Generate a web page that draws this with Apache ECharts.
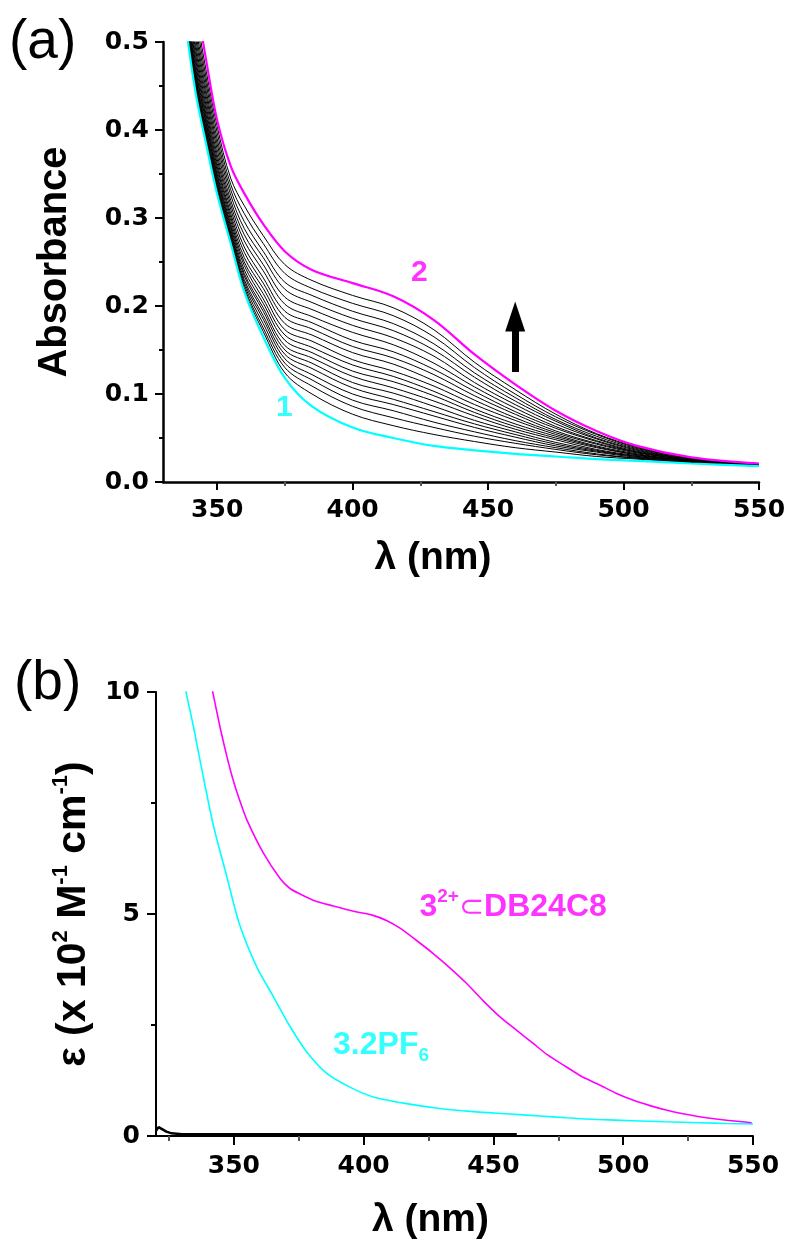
<!DOCTYPE html>
<html><head><meta charset="utf-8">
<script src="https://cdn.jsdelivr.net/npm/echarts@6/dist/echarts.min.js"></script>
<style>html,body{margin:0;padding:0;background:#fff}#c{width:792px;height:1244px}</style>
</head><body><div id="c"></div>
<script>
// ---------- Panel (a): titration spectra ----------
const wavelengthsA = [338,342,346,350,355,360,367,375,385,400,415,430,445,460,475,490,505,525,550];
const absCurve1 = [0.528,0.443,0.383,0.327,0.271,0.216,0.165,0.118,0.086,0.062,0.050,0.041,0.036,0.032,0.029,0.026,0.024,0.021,0.018];
const absCurve2 = [0.620,0.550,0.478,0.411,0.359,0.328,0.293,0.262,0.241,0.226,0.211,0.184,0.145,0.111,0.081,0.058,0.041,0.028,0.021];
const titrationCurves = [
  [0.609,0.537,0.466,0.404,0.345,0.314,0.280,0.247,0.229,0.212,0.198,0.173,0.136,0.105,0.077,0.055,0.040,0.027,0.021],
  [0.601,0.528,0.458,0.397,0.338,0.305,0.271,0.237,0.220,0.203,0.189,0.165,0.130,0.100,0.074,0.054,0.039,0.027,0.021],
  [0.594,0.519,0.451,0.390,0.332,0.296,0.262,0.227,0.212,0.194,0.180,0.157,0.124,0.096,0.071,0.052,0.038,0.027,0.020],
  [0.587,0.512,0.444,0.384,0.326,0.288,0.255,0.219,0.204,0.186,0.172,0.150,0.119,0.092,0.069,0.050,0.037,0.026,0.020],
  [0.581,0.505,0.438,0.378,0.320,0.281,0.247,0.210,0.196,0.178,0.164,0.143,0.113,0.088,0.066,0.049,0.036,0.026,0.020],
  [0.575,0.498,0.432,0.372,0.315,0.274,0.240,0.202,0.188,0.170,0.156,0.135,0.108,0.084,0.063,0.047,0.035,0.026,0.020],
  [0.570,0.492,0.426,0.367,0.310,0.267,0.232,0.194,0.181,0.161,0.148,0.128,0.103,0.080,0.061,0.046,0.034,0.025,0.020],
  [0.565,0.486,0.421,0.362,0.305,0.261,0.226,0.187,0.174,0.154,0.141,0.122,0.098,0.077,0.058,0.044,0.034,0.025,0.020],
  [0.560,0.481,0.416,0.358,0.301,0.255,0.220,0.180,0.167,0.147,0.134,0.115,0.093,0.073,0.056,0.043,0.033,0.025,0.020],
  [0.556,0.476,0.412,0.354,0.297,0.250,0.214,0.173,0.160,0.139,0.126,0.109,0.088,0.070,0.054,0.041,0.032,0.024,0.019],
  [0.552,0.471,0.408,0.350,0.293,0.246,0.208,0.167,0.153,0.133,0.120,0.103,0.083,0.066,0.052,0.040,0.031,0.024,0.019],
  [0.549,0.467,0.405,0.347,0.290,0.241,0.203,0.161,0.147,0.126,0.114,0.098,0.079,0.063,0.050,0.039,0.031,0.024,0.019],
  [0.546,0.463,0.401,0.344,0.287,0.237,0.198,0.155,0.141,0.120,0.107,0.092,0.075,0.060,0.048,0.037,0.030,0.024,0.019],
  [0.543,0.460,0.398,0.341,0.284,0.234,0.194,0.150,0.135,0.113,0.101,0.086,0.070,0.057,0.045,0.036,0.029,0.023,0.019],
  [0.540,0.457,0.395,0.338,0.282,0.230,0.189,0.145,0.129,0.107,0.094,0.080,0.066,0.054,0.043,0.035,0.029,0.023,0.019],
  [0.537,0.454,0.392,0.336,0.279,0.227,0.185,0.140,0.122,0.100,0.088,0.075,0.062,0.051,0.041,0.034,0.028,0.023,0.019],
  [0.535,0.451,0.390,0.333,0.277,0.224,0.180,0.135,0.116,0.093,0.081,0.068,0.057,0.047,0.039,0.032,0.027,0.022,0.019],
  [0.532,0.448,0.387,0.331,0.275,0.221,0.175,0.130,0.109,0.086,0.073,0.062,0.052,0.044,0.037,0.031,0.027,0.022,0.018],
  [0.530,0.445,0.385,0.329,0.273,0.218,0.171,0.124,0.100,0.077,0.064,0.054,0.046,0.039,0.034,0.029,0.026,0.022,0.018]
];
const xMajorA = [350,400,450,500,550];
const xMinorA = [375,425,475,525];
const labelsA = [{text:'1', at:[374.8,0.084], color:'#00FFFF'}, {text:'2', at:[424.6,0.238], color:'#FF00FF'}];
const arrowA = {x:460, from:0.125, to:0.188};

// ---------- Panel (b): molar absorptivity ----------
const wlSalt = [331,334.5,337.7,342.2,347.3,352,358.8,365.2,371.7,378,385.8,394.7,403.7,416.5,429.3,442.2,455,467.8,478,490,503.7,516,529.3,540,550];
const epsSalt = [10.15,9.2,8.24,6.97,5.84,4.8,3.81,3.14,2.46,1.9,1.41,1.1,0.88,0.73,0.62,0.55,0.5,0.45,0.41,0.37,0.345,0.32,0.3,0.28,0.27];
const wlComplex = [341.5,344.7,347.3,349.8,352,355,361.4,367.8,371.5,375.5,381,388.3,397,403,409,414,420,426.8,433,439.6,446,452.4,459,465.2,471,478,484,490.9,497,503.7,510,516.5,523,529.3,539,549.5];
const epsComplex = [10.1,9.2,8.55,8.0,7.6,7.12,6.37,5.8,5.58,5.45,5.3,5.18,5.05,4.98,4.85,4.68,4.42,4.11,3.8,3.44,3.05,2.69,2.38,2.09,1.82,1.56,1.34,1.15,0.97,0.81,0.69,0.585,0.5,0.435,0.36,0.3];
const wlBase = [320,321,322.5,324,326,330,459];
const epsBase = [0.12,0.2,0.15,0.1,0.06,0.04,0.04];
const xMajorB = [350,400,450,500,550];
const xMinorB = [325,375,425,475,525];
const labelComplex = {text:'{a|3}{s|2+}{c|⊂}{a|DB24C8}', at:[457.6,5.2]};
const labelSalt = {text:'{a|3.2PF}{b|6}', at:[406.7,2.0]};

const pair = (xs, ys) => xs.map((x, i) => [x, ys[i]]);
const tickFont = {fontFamily:'DejaVu Sans', fontWeight:'bold', fontSize:25, color:'#000'};
const nameFont = 'Liberation Sans';

const series = [];
titrationCurves.forEach((c, i) => series.push({
  type:'line', xAxisIndex:0, yAxisIndex:0, data:pair(wavelengthsA, c), symbol:'none',
  smooth:0.35, lineStyle:{color:'#000', width:1}, silent:true, z:2
}));
series.push({type:'line', xAxisIndex:0, yAxisIndex:0, data:pair(wavelengthsA, absCurve1), symbol:'none',
  smooth:0.35, lineStyle:{color:'#00FFFF', width:2.2}, z:3});
series.push({type:'line', xAxisIndex:0, yAxisIndex:0, data:pair(wavelengthsA, absCurve2), symbol:'none',
  smooth:0.35, lineStyle:{color:'#FF00FF', width:2.2}, z:3,
  markLine:{silent:true, symbol:['none','triangle'], symbolSize:[20,30], label:{show:false},
    lineStyle:{color:'#000', width:7, type:'solid'},
    data:[[{coord:[arrowA.x, arrowA.from]}, {coord:[arrowA.x, arrowA.to]}]]}});
labelsA.forEach(l => series.push({type:'scatter', xAxisIndex:0, yAxisIndex:0, data:[l.at], symbolSize:0,
  label:{show:true, position:'inside', formatter:l.text, color:l.color, fontFamily:nameFont, fontWeight:'bold', fontSize:30}, z:5}));

series.push({type:'line', xAxisIndex:2, yAxisIndex:1, data:pair(wlBase, epsBase), symbol:'none',
  lineStyle:{color:'#000', width:2.5}, z:2});
series.push({type:'line', xAxisIndex:2, yAxisIndex:1, data:pair(wlSalt, epsSalt), symbol:'none', smooth:0.25,
  lineStyle:{color:'#00FFFF', width:1.6}, z:3});
series.push({type:'line', xAxisIndex:2, yAxisIndex:1, data:pair(wlComplex, epsComplex), symbol:'none', smooth:0.25,
  lineStyle:{color:'#FF00FF', width:1.6}, z:3});
series.push({type:'scatter', xAxisIndex:2, yAxisIndex:1, data:[labelComplex.at], symbolSize:0,
  label:{show:true, position:'inside', formatter:labelComplex.text,
    rich:{a:{fontFamily:nameFont, fontWeight:'bold', fontSize:32, color:'#FF00FF', lineHeight:36, verticalAlign:'bottom'},
          s:{fontFamily:nameFont, fontWeight:'bold', fontSize:19, color:'#FF00FF', lineHeight:18, verticalAlign:'top'},
          c:{fontFamily:'DejaVu Sans', fontSize:30, color:'#FF00FF', lineHeight:36, verticalAlign:'bottom'}}}, z:5});
series.push({type:'scatter', xAxisIndex:2, yAxisIndex:1, data:[labelSalt.at], symbolSize:0,
  label:{show:true, position:'inside', formatter:labelSalt.text,
    rich:{a:{fontFamily:nameFont, fontWeight:'bold', fontSize:32, color:'#00FFFF', lineHeight:36, verticalAlign:'top'},
          b:{fontFamily:nameFont, fontWeight:'bold', fontSize:19, color:'#00FFFF', lineHeight:18, verticalAlign:'bottom'}}}, z:5});

const axisLineA = {show:true, lineStyle:{color:'#000', width:2.5}};
const axisLineB = {show:true, lineStyle:{color:'#000', width:2}};

const option = {
  animation:false,
  backgroundColor:'#fff',
  title:[
    {text:'(a)', left:4, top:10, textStyle:{fontFamily:nameFont, fontWeight:'normal', fontSize:55, color:'#000'}},
    {text:'(b)', left:9, top:651, textStyle:{fontFamily:nameFont, fontWeight:'normal', fontSize:55, color:'#000'}}
  ],
  grid:[
    {left:163, right:33, top:42, height:440},
    {left:156, right:39, top:692, height:444}
  ],
  xAxis:[
    {gridIndex:0, type:'value', position:'bottom', min:330, max:550, axisLine:axisLineA,
     axisTick:{show:true, customValues:xMajorA, length:8, lineStyle:{width:2}},
     axisLabel:{customValues:xMajorA, margin:16, ...tickFont}, splitLine:{show:false},
     name:'λ (nm)', nameLocation:'middle', nameGap:57,
     nameTextStyle:{fontFamily:nameFont, fontWeight:'bold', fontSize:39, color:'#000', padding:[0,56,0,0]}},
    {gridIndex:0, type:'value', position:'bottom', min:330, max:550, axisLine:{show:false},
     axisTick:{show:true, customValues:xMinorA, length:4, lineStyle:{width:2}},
     axisLabel:{show:false}, splitLine:{show:false}},
    {gridIndex:1, type:'value', position:'bottom', min:320, max:550, axisLine:axisLineB,
     axisTick:{show:true, customValues:xMajorB, length:9, lineStyle:{width:2}},
     axisLabel:{customValues:xMajorB, margin:18, ...tickFont}, splitLine:{show:false},
     name:'λ (nm)', nameLocation:'middle', nameGap:65,
     nameTextStyle:{fontFamily:nameFont, fontWeight:'bold', fontSize:39, color:'#000', padding:[0,48,0,0]}},
    {gridIndex:1, type:'value', position:'bottom', min:320, max:550, axisLine:{show:false},
     axisTick:{show:true, customValues:xMinorB, length:5, lineStyle:{width:2}},
     axisLabel:{show:false}, splitLine:{show:false}}
  ],
  yAxis:[
    {gridIndex:0, type:'value', min:0, max:0.5, interval:0.1, axisLine:axisLineA,
     axisTick:{show:true, length:8, lineStyle:{width:2}},
     minorTick:{show:true, splitNumber:2, length:4, lineStyle:{color:'#000', width:2}},
     axisLabel:{margin:14, formatter:v => v.toFixed(1), ...tickFont}, splitLine:{show:false},
     name:'Absorbance', nameLocation:'middle', nameGap:88,
     nameTextStyle:{fontFamily:nameFont, fontWeight:'bold', fontSize:40, color:'#000'}},
    {gridIndex:1, type:'value', min:0, max:10, interval:5, axisLine:axisLineB,
     axisTick:{show:true, length:9, lineStyle:{width:2}},
     minorTick:{show:true, splitNumber:2, length:5, lineStyle:{color:'#000', width:2}},
     axisLabel:{margin:16, ...tickFont}, splitLine:{show:false},
     name:'{n|ε (x 10}{s|2}{n| M}{s|-1}{n| cm}{s|-1}{n|)}', nameLocation:'middle', nameGap:60,
     nameTextStyle:{color:'#000',
       rich:{n:{fontFamily:nameFont, fontWeight:'bold', fontSize:41, color:'#000', lineHeight:44, verticalAlign:'bottom'},
             s:{fontFamily:nameFont, fontWeight:'bold', fontSize:22, color:'#000', lineHeight:22, verticalAlign:'top'}}}}
  ],
  series
};
const chart = echarts.init(document.getElementById('c'), null, {renderer:'canvas'});
chart.setOption(option);
</script></body></html>
